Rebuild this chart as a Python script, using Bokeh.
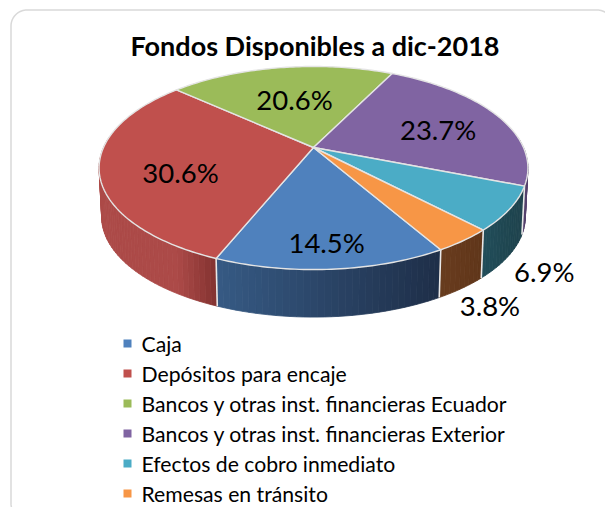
import math
from bokeh.plotting import figure
from bokeh.embed import file_html
from bokeh.resources import INLINE
from bokeh.core.properties import value

title = "Fondos Disponibles a dic-2018"
categories = ["Caja", "Depósitos para encaje", "Bancos y otras inst. financieras Ecuador",
              "Bancos y otras inst. financieras Exterior", "Efectos de cobro inmediato", "Remesas en tránsito"]
shares = [14.5, 30.6, 20.6, 23.7, 6.9, 3.8]
colors = ["#4F81BD", "#C0504D", "#9BBB59", "#8064A2", "#4BACC6", "#F79646"]
wall_left = [(54, 90, 132), (172, 74, 72), (110, 135, 62), (96, 74, 122), (34, 78, 90), (104, 60, 30)]
wall_right = [(30, 46, 72), (130, 50, 48), (110, 135, 62), (84, 64, 108), (30, 66, 76), (96, 54, 26)]

W, H = 605, 507
FONT = "Lato"
AX, AY = 313.0, 147.0      # pie centre on the screen
R, S, E = 210.0, 97.4, 0.202   # perspective of the pie's top
DEPTH, SHRINK = 49.0, 0.988
START = -60.0

p = figure(width=W, height=H, x_range=(0, W), y_range=(H, 0),
           output_backend="svg", toolbar_location=None, min_border=0, outline_line_color=None)
p.axis.visible = False
p.grid.visible = False
p.background_fill_color = "white"
p.border_fill_color = "white"


def project(deg, r=1.0, wall=False):
    t = math.radians(deg)
    w = 1 + E * r * math.sin(t)
    x = R * r * math.cos(t) / w
    y = S * r * math.sin(t) / w
    if wall:
        return AX + x * SHRINK, AY - y * SHRINK + DEPTH
    return AX + x, AY - y


# frame with rounded corners
x0, x1, y0, y1, rad = 10.5, 612.5, 9.5, 519.0, 16.0
fx, fy = [], []
for cx, cy, a0 in [(x0 + rad, y0 + rad, 180), (x1 - rad, y0 + rad, 270), (x1 - rad, y1 - rad, 0), (x0 + rad, y1 - rad, 90)]:
    for i in range(0, 91, 5):
        a = math.radians(a0 + i)
        fx.append(cx + rad * math.cos(a))
        fy.append(cy + rad * math.sin(a))
p.patch(fx, fy, fill_color="white", line_color="#D9D9D9", line_width=1.5)

# slice angles, clockwise from START
total = sum(shares)
edges = [START]
for s in shares:
    edges.append(edges[-1] - s / total * 360)

# walls
for i, c in enumerate(colors):
    a, b = edges[i], edges[i + 1]
    n = max(2, int(abs(b - a) / 1.5))
    qx, qy, qc = [], [], []
    sx0 = project(a)[0]
    sx1 = project(b)[0]
    for k in range(n):
        d0 = a + (b - a) * k / n
        d1 = a + (b - a) * (k + 1) / n
        if math.sin(math.radians(d0)) > 0.1 and math.sin(math.radians(d1)) > 0.1:
            continue
        t0 = project(d0)
        t1 = project(d1)
        b0 = project(d0, wall=True)
        b1 = project(d1, wall=True)
        qx.append([t0[0], t1[0], b1[0], b0[0]])
        qy.append([t0[1], t1[1], b1[1], b0[1]])
        lo, hi = min(sx0, sx1), max(sx0, sx1)
        f = (((t0[0] + t1[0]) / 2) - lo) / max(hi - lo, 1)
        f = min(1, max(0, f))
        col = [round(wall_left[i][j] + (wall_right[i][j] - wall_left[i][j]) * f) for j in range(3)]
        qc.append("#%02x%02x%02x" % tuple(col))
    if qx:
        p.patches(qx, qy, fill_color=qc, line_color=qc, line_width=0.8)

# wall dividers
for d in edges[:-1]:
    if math.sin(math.radians(d)) < 0:
        t = project(d)
        b = project(d, wall=True)
        p.line([t[0], b[0]], [t[1], b[1]], line_color="#E8E8E8", line_width=1.6)

# top faces
for i, c in enumerate(colors):
    a, b = edges[i], edges[i + 1]
    n = max(3, int(abs(b - a)))
    pts = [project(a + (b - a) * k / n) for k in range(n + 1)]
    xs = [AX] + [q[0] for q in pts]
    ys = [AY] + [q[1] for q in pts]
    p.patch(xs, ys, fill_color=c, line_color="#E4E4E4", line_width=1.4, line_join="round")

# data labels
label_r = [0.82, 0.7, 0.6, 0.6, 1.2, 1.2]
label_dx = [-1, 15, 2, 12, -11, -11]
label_dy = [0, 9, 3, 2, 49, 42]
for i, s in enumerate(shares):
    mid = (edges[i] + edges[i + 1]) / 2
    lx, ly = project(mid, label_r[i])
    p.text([lx + label_dx[i]], [ly + label_dy[i]], text=[f"{s:.1f}%"], text_font=value(FONT),
           text_font_size="27.5px", text_color="#000000", text_align="center", text_baseline="middle")

# title
p.text([314.5], [45], text=[title], text_font=value(FONT), text_font_size="27px", text_font_style="bold",
       text_color="#000000", text_align="center", text_baseline="middle")

# legend
for i, cat in enumerate(categories):
    ly = 343 + i * 30
    p.scatter([127], [ly], marker="square", size=8, fill_color=colors[i], line_color=None)
    p.text([141], [ly], text=[cat], text_font=value(FONT), text_font_size="21.2px",
           text_color="#000000", text_align="left", text_baseline="middle")

open("out.html", "w").write(file_html(p, INLINE))
